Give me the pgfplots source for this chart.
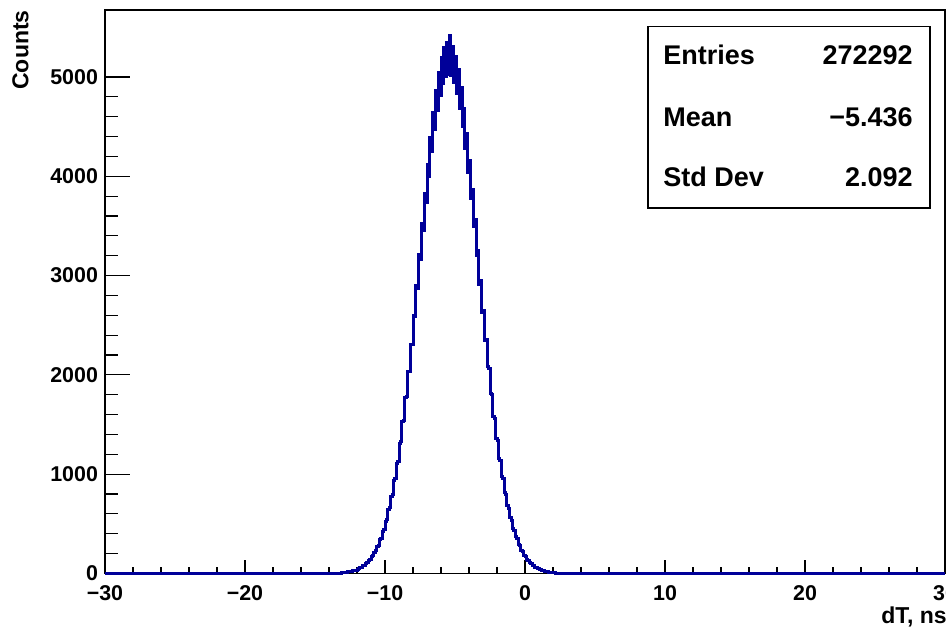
\documentclass[border=0pt]{standalone}
\usepackage{fontspec}
\setmainfont{Liberation Sans}
\usepackage{pgfplots}
\pgfplotsset{compat=1.18}
\usetikzlibrary{calc}
\definecolor{rootblue}{RGB}{0,0,153}
\begin{document}
\begin{tikzpicture}
\begin{axis}[
  scale only axis,
  width=420pt, height=281.7pt,
  xmin=-30, xmax=30, ymin=0, ymax=5675,
  clip=false,
  axis line style={line width=0.6pt},
  tick align=inside,
  xtick pos=bottom, ytick pos=left,
  xtick={-30,-20,-10,0,10,20,30},
  xticklabels={−30,−20,−10,0,10,20,30},
  ytick={0,1000,2000,3000,4000,5000},
  yticklabels={0,1000,2000,3000,4000,5000},
  scaled x ticks=false, scaled y ticks=false,
  minor x tick num=4, minor y tick num=4,
  xtick style={line width=0.6pt, black, /pgfplots/major tick length=6.5pt, /pgfplots/minor tick length=3.25pt},
  ytick style={line width=0.6pt, black, /pgfplots/major tick length=12.5pt, /pgfplots/minor tick length=6.25pt},
  tick label style={font=\fontsize{10.7}{12}\selectfont\bfseries},
  xticklabel style={yshift=-2.3pt},
]
\addplot[const plot mark left, color=rootblue, line width=1.5pt, line join=miter] table {
x y
-30.0 0
-13.4 1
-13.3 2
-13.2 3
-13.1 5
-13.0 7
-12.9 11
-12.8 10
-12.7 15
-12.6 17
-12.5 18
-12.4 24
-12.3 25
-12.2 32
-12.1 33
-12.0 43
-11.9 45
-11.8 57
-11.7 60
-11.6 76
-11.5 80
-11.4 99
-11.3 105
-11.2 129
-11.1 137
-11.0 166
-10.9 176
-10.8 213
-10.7 226
-10.6 270
-10.5 284
-10.4 339
-10.3 356
-10.2 423
-10.1 442
-10.0 522
-9.9 543
-9.8 640
-9.7 660
-9.6 776
-9.5 797
-9.4 931
-9.3 954
-9.2 1108
-9.1 1131
-9.0 1305
-8.9 1328
-8.8 1526
-8.7 1545
-8.6 1768
-8.5 1781
-8.4 2029
-8.3 2036
-8.2 2307
-8.1 2305
-8.0 2600
-7.9 2585
-7.8 2903
-7.7 2873
-7.6 3212
-7.5 3165
-7.4 3522
-7.3 3454
-7.2 3827
-7.1 3735
-7.0 4120
-6.9 4002
-6.8 4394
-6.7 4250
-6.6 4645
-6.5 4472
-6.4 4865
-6.3 4663
-6.2 5050
-6.1 4818
-6.0 5194
-5.9 4932
-5.8 5293
-5.7 5003
-5.6 5345
-5.5 5030
-5.4 5417
-5.3 5012
-5.2 5303
-5.1 4945
-5.0 5210
-4.9 4836
-4.8 5072
-4.7 4687
-4.6 4893
-4.5 4501
-4.4 4678
-4.3 4283
-4.2 4431
-4.1 4039
-4.0 4159
-3.9 3774
-3.8 3869
-3.7 3494
-3.6 3566
-3.5 3206
-3.4 3256
-3.3 2915
-3.2 2948
-3.1 2627
-3.0 2645
-2.9 2348
-2.8 2355
-2.7 2081
-2.6 2067
-2.5 1817
-2.4 1803
-2.3 1577
-2.2 1559
-2.1 1357
-2.0 1336
-1.9 1158
-1.8 1134
-1.7 978
-1.6 954
-1.5 819
-1.4 795
-1.3 679
-1.2 657
-1.1 559
-1.0 537
-0.9 455
-0.8 436
-0.7 367
-0.6 350
-0.5 294
-0.4 279
-0.3 233
-0.2 220
-0.1 183
0.0 172
0.1 142
0.2 133
0.3 110
0.4 102
0.5 84
0.6 78
0.7 64
0.8 59
0.9 47
1.0 44
1.1 35
1.2 32
1.3 26
1.4 24
1.5 19
1.6 18
1.7 13
1.8 12
1.9 9
2.0 7
2.1 6
2.2 4
2.3 3
2.4 2
2.5 1
2.6 0
30.0 0
};
\coordinate (ul) at (rel axis cs:0,1);
\coordinate (ll) at (rel axis cs:0,0);
\coordinate (lr) at (rel axis cs:1,0);
\coordinate (ur) at (rel axis cs:1,1);
\end{axis}
% stats box
\draw[line width=0.6pt, fill=white] ($(ul)+(271.5pt,-8.35pt)$) rectangle ($(ul)+(412.5pt,-99pt)$);
\begin{scope}[every node/.style={inner sep=0pt, font=\fontsize{13.5}{16}\selectfont\bfseries}]
\node[anchor=base west] at ($(ul)+(279pt,-27.5pt)$) {Entries};
\node[anchor=base east] at ($(ul)+(404pt,-27.5pt)$) {272292};
\node[anchor=base west] at ($(ul)+(279pt,-58.35pt)$) {Mean};
\node[anchor=base east] at ($(ul)+(404pt,-58.35pt)$) {−5.436};
\node[anchor=base west] at ($(ul)+(279pt,-88.35pt)$) {Std Dev};
\node[anchor=base east] at ($(ul)+(404pt,-88.35pt)$) {2.092};
\end{scope}
% axis titles
\node[anchor=base east, inner sep=0pt, font=\fontsize{11.5}{13}\selectfont\bfseries] at ($(lr)+(1pt,-24.85pt)$) {dT, ns};
\node[rotate=90, anchor=base east, inner sep=0pt, font=\fontsize{11.5}{13}\selectfont\bfseries] at ($(ul)+(-38.35pt,0pt)$) {Counts};
\pgfresetboundingbox
\path[use as bounding box] ($(ll)+(-52.5pt,-26.35pt)$) rectangle ($(ur)+(0.5pt,5pt)$);
\end{tikzpicture}
\end{document}
